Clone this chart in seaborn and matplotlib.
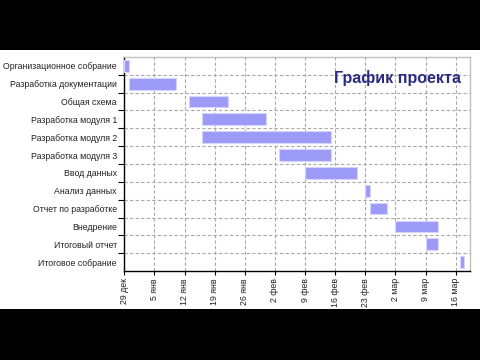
import pandas as pd
import matplotlib
matplotlib.use("Agg")
import matplotlib.pyplot as plt
import matplotlib.dates as mdates
from matplotlib.patches import Rectangle
from matplotlib.ticker import FixedLocator
import seaborn as sns

# project tasks and their dates
tasks = ["Организационное собрание", "Разработка документации", "Общая схема",
         "Разработка модуля 1", "Разработка модуля 2", "Разработка модуля 3",
         "Ввод данных", "Анализ данных", "Отчет по разработке", "Внедрение",
         "Итоговый отчет", "Итоговое собрание"]
start_dates = ["2008-12-29", "2008-12-30", "2009-01-13", "2009-01-16", "2009-01-16",
               "2009-02-03", "2009-02-09", "2009-02-23", "2009-02-24", "2009-03-02",
               "2009-03-09", "2009-03-17"]
end_dates = ["2008-12-30", "2009-01-10", "2009-01-22", "2009-01-31", "2009-02-15",
             "2009-02-15", "2009-02-21", "2009-02-24", "2009-02-28", "2009-03-12",
             "2009-03-12", "2009-03-18"]
tick_dates = ["2008-12-29", "2009-01-05", "2009-01-12", "2009-01-19", "2009-01-26",
              "2009-02-02", "2009-02-09", "2009-02-16", "2009-02-23", "2009-03-02",
              "2009-03-09", "2009-03-16"]
tick_labels = ["29 дек", "5 янв", "12 янв", "19 янв", "26 янв", "2 фев", "9 фев",
               "16 фев", "23 фев", "2 мар", "9 мар", "16 мар"]
title = "График проекта"

df = pd.DataFrame({"task": tasks,
                   "start": pd.to_datetime(start_dates),
                   "end": pd.to_datetime(end_dates)})
df["x0"] = mdates.date2num(df["start"])
df["dur"] = mdates.date2num(df["end"]) - df["x0"]

sns.set_theme(style="white")
plt.rcParams["font.family"] = ["Liberation Sans", "DejaVu Sans"]

fig = plt.figure(figsize=(4.8, 3.6), dpi=100, facecolor="black")
# white picture area between the black bands
fig.patches.append(Rectangle((0, 0.1417), 1, 0.7194, transform=fig.transFigure,
                             facecolor="white", edgecolor="none", zorder=-10))
ax = fig.add_axes([0.258, 0.247, 0.721, 0.595])
ax.set_facecolor("white")

rows = list(range(len(tasks)))
ax.barh(rows, df["dur"], left=df["x0"], height=0.66,
        color="#9b9bf7", edgecolor="#d4d4ff", linewidth=0.8, zorder=3)

ax.set_ylim(len(tasks) - 0.5, -0.5)
ax.set_yticks(rows)
ax.set_yticklabels(tasks, fontsize=6.3, color="#222222")
ax.yaxis.set_minor_locator(FixedLocator([r + 0.5 for r in rows[:-1]]))
ax.tick_params(axis="y", which="major", length=0, pad=5)
ax.tick_params(axis="y", which="minor", length=4, width=0.8, color="black", direction="out", left=True)

x_ticks = mdates.date2num(pd.to_datetime(tick_dates))
ax.set_xlim(x_ticks[0] - 0.1, x_ticks[0] + 80.3)
ax.set_xticks(x_ticks)
ax.set_xticklabels(tick_labels, rotation=90, fontsize=6.3, color="#222222")
ax.tick_params(axis="x", length=3, width=0.8, color="black", direction="out", bottom=True, pad=2)

ax.grid(axis="x", which="major", color="#a8a8a8", linestyle=(0, (3, 2)), linewidth=0.8, zorder=0)
ax.grid(axis="y", which="minor", color="#a8a8a8", linestyle=(0, (3, 2)), linewidth=0.8, zorder=0)
ax.set_axisbelow(True)

for side in ["left", "bottom"]:
    ax.spines[side].set_color("black")
    ax.spines[side].set_linewidth(1.0)
for side in ["top", "right"]:
    ax.spines[side].set_color("#c0c0c0")
    ax.spines[side].set_linewidth(1.0)

ax.set_xlabel("")
ax.set_ylabel("")
ax.text(0.79, 0.9, title, transform=ax.transAxes, ha="center", va="center",
        fontsize=11.5, fontweight="bold", color="#2b2b80", zorder=5)

fig.savefig("out.png", dpi=100, facecolor=fig.get_facecolor())
